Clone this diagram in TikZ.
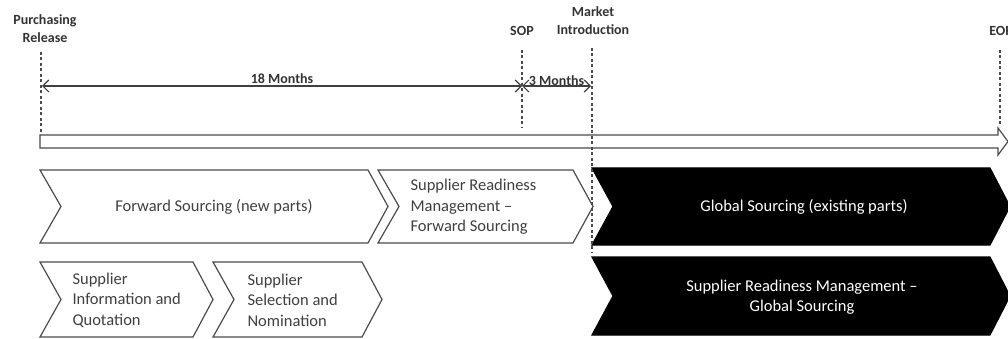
\documentclass[tikz,border=0pt]{standalone}
\usepackage{fontspec}
\setmainfont{Carlito}
\usetikzlibrary{arrows.meta}

\tikzset{
  guide/.style={dash pattern=on 3pt off 2.5pt, line width=1.5pt, draw=black!70},
  span/.style={{Straight Barb[length=6pt,width=12pt]}-{Straight Barb[length=6pt,width=12pt]}, line width=1.2pt, draw=black!75},
  chev/.style={draw=black!70, line width=1.2pt, fill=white},
  chevdark/.style={draw=black, line width=1.2pt, fill=black},
  lbl/.style={font=\fontsize{14}{18}\selectfont\bfseries, align=center, text=black!80},
  boxtext/.style={font=\fontsize{16.5}{20.5}\selectfont, text=black!75},
}
% chevron: [style]{left}{tip}{top}{bottom}
\newcommand\chevron[5][chev]{%
  \draw[#1] (#2,#4) -- ({#3-20},#4) -- (#3,{(#4+#5)/2}) -- ({#3-20},#5)
    -- (#2,#5) -- ({#2+21},{(#4+#5)/2}) -- cycle;}

\begin{document}
\begin{tikzpicture}[x=1pt,y=-1pt]
  \useasboundingbox (0,0) rectangle (1008,339);

  % milestones
  \node[lbl] (pr) at (45,29) {Purchasing\\Release};
  \node[lbl] (sop) at (522,31) {SOP};
  \node[lbl] (mi) at (593,21) {Market\\Introduction};
  \node[lbl] (eop) at (1001,31) {EOP};

  \coordinate (prtop) at (41,52);   \coordinate (prbot) at (41,132);
  \coordinate (soptop) at (522,50); \coordinate (sopbot) at (522,128);
  \coordinate (mitop) at (592,48);  \coordinate (mibot) at (592,252);
  \coordinate (eoptop) at (1000,50); \coordinate (eopbot) at (1000,127);

  % time spans
  \coordinate (prmid) at (42,86);
  \coordinate (sopmid) at (522,86);
  \coordinate (mimid) at (591,86);
  \draw[span] (prmid) -- (sopmid)
    node[midway,above,lbl,inner sep=2pt] {18 Months};
  \draw[span] (sopmid) -- (mimid)
    node[midway,above,lbl,inner sep=0pt] {3 Months};

  % time line
  \draw[chev] (40,135) -- (998,135) -- (998,128) -- (1008,141.5) -- (998,155)
    -- (998,148) -- (40,148) -- cycle;

  % phases
  \chevron{40}{388}{170}{243}
  \chevron{378}{593}{170}{243}
  \chevron[chevdark]{592}{1010}{168}{245}
  \chevron{40}{213}{262}{337}
  \chevron{213}{382}{262}{337}
  \chevron[chevdark]{592}{1010}{257}{335}

  \draw[guide] (prtop) -- (prbot);
  \draw[guide] (soptop) -- (sopbot);
  \draw[guide] (mitop) -- (mibot);
  \draw[guide] (eoptop) -- (eopbot);

  \node[boxtext] (fs) at (214,207) {Forward Sourcing (new parts)};
  \node[boxtext,align=left,anchor=west] (srmfs) at (407,207)
    {Supplier Readiness\\Management --\\Forward Sourcing};
  \node[boxtext,text=white] (gs) at (804,207) {Global Sourcing (existing parts)};
  \node[boxtext,align=left,anchor=west] (siq) at (69,300)
    {Supplier\\Information and\\Quotation};
  \node[boxtext,align=left,anchor=west] (ssn) at (244,300)
    {Supplier\\Selection and\\Nomination};
  \node[boxtext,text=white,align=center] (srmgs) at (802,297)
    {Supplier Readiness Management --\\Global Sourcing};
\end{tikzpicture}
\end{document}
